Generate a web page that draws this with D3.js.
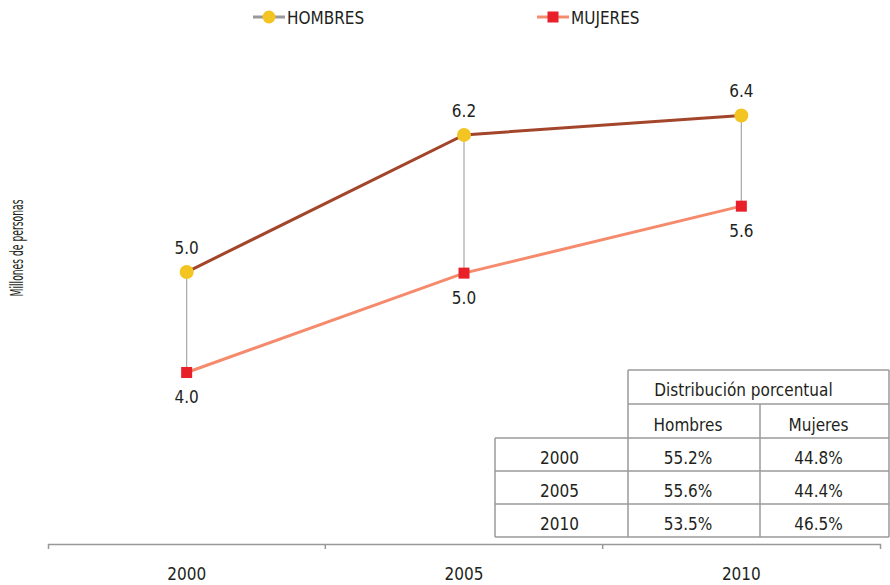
<!DOCTYPE html>
<html>
<head>
    <meta http-equiv="Content-Type" content="text/html;charset=utf-8">
    <script src="https://d3js.org/d3.v7.min.js"></script>
    <style>
        html, body {
            margin: 0;
            padding: 0;
            background: #fff;
        }

        svg text {
            font-family: "DejaVu Sans Condensed", "DejaVu Sans", sans-serif;
            font-stretch: condensed;
            fill: #231f20;
        }

        .axis path, .axis line {
            stroke: #999;
            stroke-width: 1.5px;
        }

        .grid line {
            stroke: #9a9a9a;
            stroke-width: 1.5px;
        }
    </style>
</head>
<body>
<div id="chart"></div>
<script>
    var years = ["2000", "2005", "2010"];
    var hombres = [4.97, 6.24, 6.42];
    var mujeres = [4.04, 4.96, 5.58];
    var pctHombres = ["55.2%", "55.6%", "53.5%"];
    var pctMujeres = ["44.8%", "44.4%", "46.5%"];
    var seriesNames = ["HOMBRES", "MUJERES"];

    var width = 890,
        height = 585,
        fontSize = "17px";

    var svg = d3.select("#chart").append("svg")
        .attr("width", width)
        .attr("height", height);

    var x = d3.scaleBand()
        .domain(years)
        .range([48, 880]);

    var y = d3.scaleLinear()
        .domain([3.5, 6.6])
        .range([430.8, 96]);

    var fmt = d3.format(".1f");
    var cx = function (d) { return x(d) + x.bandwidth() / 2; };

    // bottom axis: outer ticks at ends, inner ticks at band edges
    var axis = svg.append("g")
        .attr("class", "axis")
        .attr("transform", "translate(0,544)")
        .call(d3.axisBottom(x).tickSizeInner(0).tickSizeOuter(5));
    axis.selectAll(".tick line").remove();
    axis.attr("font-family", null).attr("font-size", null);
    axis.selectAll(".tick text")
        .attr("y", 36)
        .attr("dy", null)
        .attr("fill", "#231f20")
        .style("font-size", fontSize);
    axis.selectAll(".edge").data(years.slice(1))
        .enter().append("line")
        .attr("class", "edge")
        .attr("x1", function (d) { return x(d); })
        .attr("x2", function (d) { return x(d); })
        .attr("y1", 0)
        .attr("y2", 5);
    axis.select(".domain").attr("fill", "none");

    // y title (the original face is much narrower)
    svg.append("text")
        .attr("transform", "translate(23,248) rotate(-90)")
        .attr("text-anchor", "middle")
        .attr("textLength", 97)
        .attr("lengthAdjust", "spacingAndGlyphs")
        .style("font-size", "17px")
        .text("Millones de personas");

    // vertical connectors
    svg.append("g").selectAll("line").data(years)
        .enter().append("line")
        .attr("x1", cx).attr("x2", cx)
        .attr("y1", function (d, i) { return y(hombres[i]); })
        .attr("y2", function (d, i) { return y(mujeres[i]); })
        .attr("stroke", "#a8a8a8")
        .attr("stroke-width", 1.2);

    var line = d3.line()
        .x(function (d, i) { return cx(years[i]); })
        .y(function (d) { return y(d); });

    svg.append("path").datum(mujeres)
        .attr("d", line)
        .attr("fill", "none")
        .attr("stroke", "#f58a6c")
        .attr("stroke-width", 3);

    svg.append("path").datum(hombres)
        .attr("d", line)
        .attr("fill", "none")
        .attr("stroke", "#a3452a")
        .attr("stroke-width", 3);

    svg.append("g").selectAll("circle").data(hombres)
        .enter().append("circle")
        .attr("cx", function (d, i) { return cx(years[i]); })
        .attr("cy", function (d) { return y(d); })
        .attr("r", 7)
        .attr("fill", "#f2c523");

    svg.append("g").selectAll("rect").data(mujeres)
        .enter().append("rect")
        .attr("x", function (d, i) { return cx(years[i]) - 5.5; })
        .attr("y", function (d) { return y(d) - 5.5; })
        .attr("width", 11)
        .attr("height", 11)
        .attr("fill", "#e8202a");

    // data labels
    svg.append("g").selectAll("text").data(hombres)
        .enter().append("text")
        .attr("x", function (d, i) { return cx(years[i]); })
        .attr("y", function (d) { return y(d) - 18; })
        .attr("text-anchor", "middle")
        .style("font-size", fontSize)
        .text(fmt);

    svg.append("g").selectAll("text").data(mujeres)
        .enter().append("text")
        .attr("x", function (d, i) { return cx(years[i]); })
        .attr("y", function (d) { return y(d) + 31; })
        .attr("text-anchor", "middle")
        .style("font-size", fontSize)
        .text(fmt);

    // legend
    var legend = svg.append("g");
    legend.append("line").attr("x1", 253).attr("x2", 285).attr("y1", 17).attr("y2", 17)
        .attr("stroke", "#999").attr("stroke-width", 3);
    legend.append("circle").attr("cx", 269).attr("cy", 17).attr("r", 6.5).attr("fill", "#f2c523");
    legend.append("text").attr("x", 287).attr("y", 24).style("font-size", fontSize).text(seriesNames[0]);
    legend.append("line").attr("x1", 537).attr("x2", 569).attr("y1", 17).attr("y2", 17)
        .attr("stroke", "#f58a6c").attr("stroke-width", 3);
    legend.append("rect").attr("x", 547.5).attr("y", 11.5).attr("width", 11).attr("height", 11).attr("fill", "#e8202a");
    legend.append("text").attr("x", 571).attr("y", 24).style("font-size", fontSize).text(seriesNames[1]);

    // distribution table
    var tbl = svg.append("g").attr("class", "grid");
    var colX = [495, 628, 760, 889],
        rowY = [370, 404, 438, 471, 504, 537];

    var segs = [
        [628, 370, 889, 370], [628, 404, 889, 404], [495, 438, 889, 438],
        [495, 471, 889, 471], [495, 504, 889, 504], [495, 537, 889, 537],
        [628, 370, 628, 537], [495, 438, 495, 537], [760, 404, 760, 537],
        [889, 370, 889, 537]
    ];
    tbl.selectAll("line").data(segs)
        .enter().append("line")
        .attr("x1", function (d) { return d[0]; })
        .attr("y1", function (d) { return d[1]; })
        .attr("x2", function (d) { return d[2]; })
        .attr("y2", function (d) { return d[3]; });

    tbl.append("text")
        .attr("x", (colX[1] + colX[3]) / 2 - 15)
        .attr("y", rowY[0] + 26)
        .attr("text-anchor", "middle")
        .style("font-size", fontSize)
        .text("Distribución porcentual");

    tbl.selectAll(".head").data(["Hombres", "Mujeres"])
        .enter().append("text")
        .attr("class", "head")
        .attr("x", function (d, i) { return (colX[i + 1] + colX[i + 2]) / 2 - 6; })
        .attr("y", rowY[1] + 27)
        .attr("text-anchor", "middle")
        .style("font-size", fontSize)
        .text(function (d) { return d; });

    years.forEach(function (yr, i) {
        var cells = [yr, pctHombres[i], pctMujeres[i]];
        tbl.selectAll(".r" + i).data(cells)
            .enter().append("text")
            .attr("class", "r" + i)
            .attr("x", function (d, j) { return (colX[j] + colX[j + 1]) / 2 - (j > 0 ? 6 : 2); })
            .attr("y", rowY[i + 2] + 26)
            .attr("text-anchor", "middle")
            .style("font-size", fontSize)
            .text(function (d) { return d; });
    });
</script>
</body>
</html>
